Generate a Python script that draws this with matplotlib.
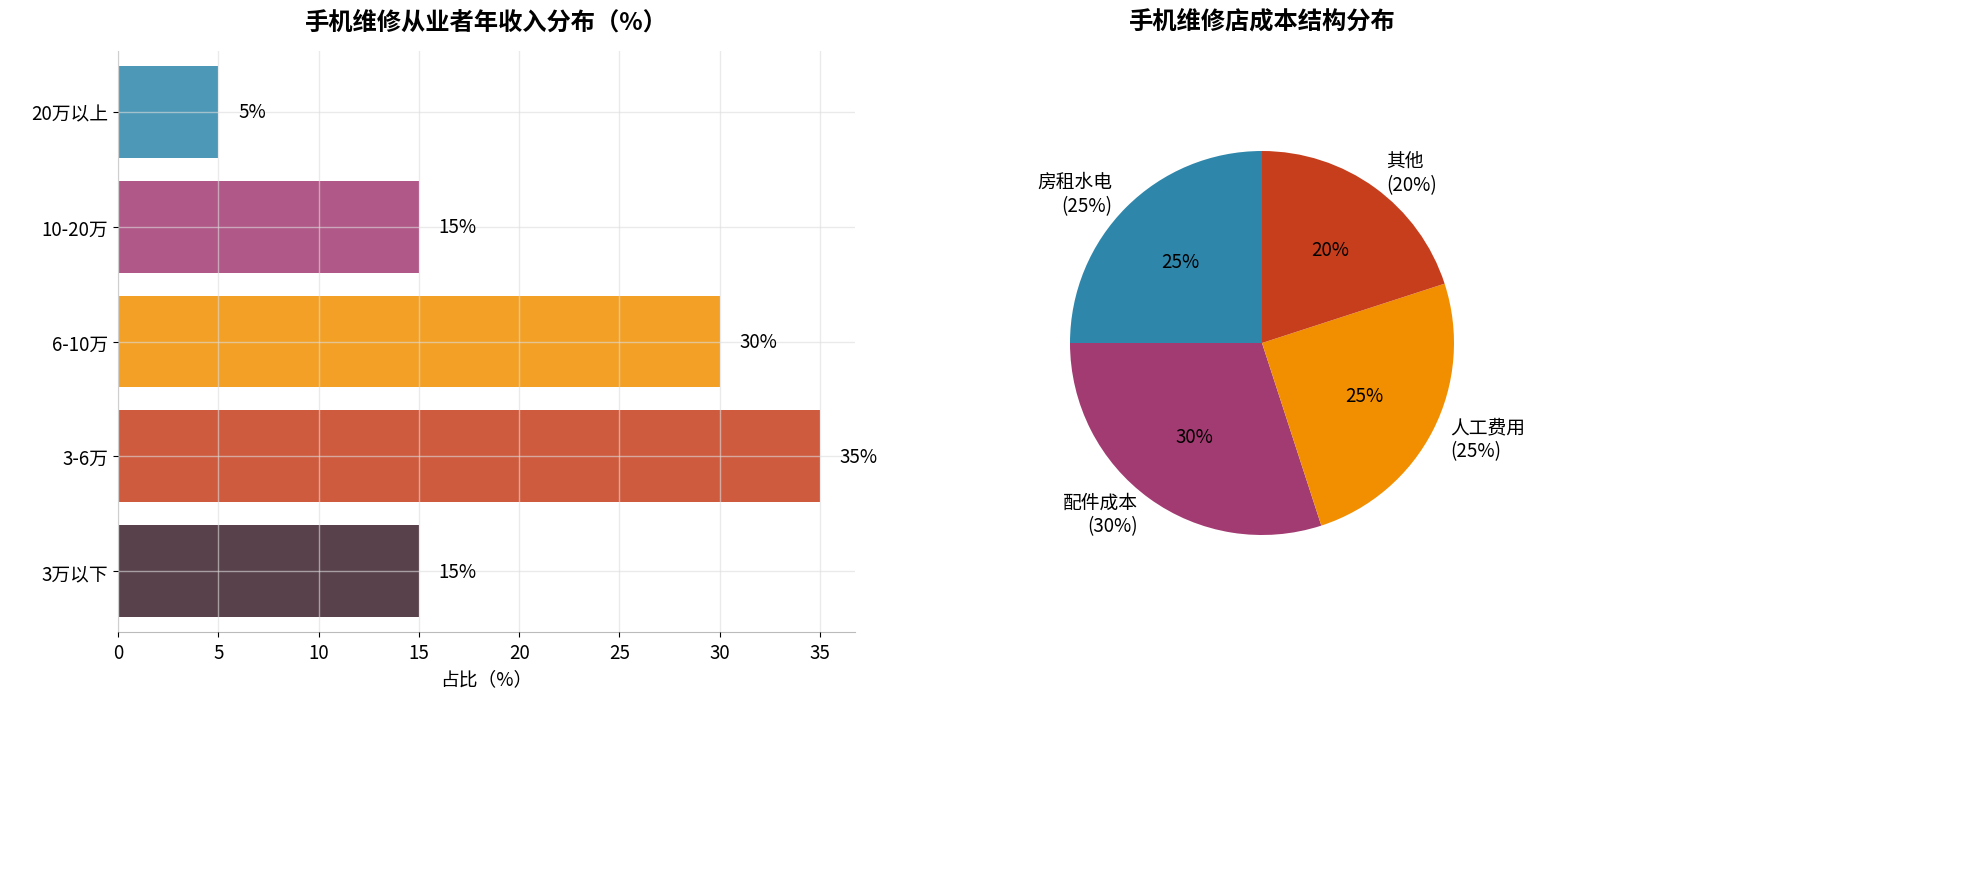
import matplotlib
matplotlib.use("Agg")
import matplotlib.pyplot as plt

plt.rcParams['font.family'] = ['Noto Sans CJK SC', 'DejaVu Sans']

income_cats = ['3万以下', '3-6万', '6-10万', '10-20万', '20万以上']
income_vals = [15, 35, 30, 15, 5]
income_colors = ['#3B1F2B', '#C73E1D', '#F18F01', '#A23B72', '#2E86AB']

cost_labels = ['房租水电', '配件成本', '人工费用', '其他']
cost_vals = [25, 30, 25, 20]
cost_colors = ['#2E86AB', '#A23B72', '#F18F01', '#C73E1D']

FS = 13.5
fig = plt.figure(figsize=(19.71, 8.79), dpi=100)
ax1 = fig.add_axes([118/1971, 1 - 633/879, (855-118)/1971, (633-52)/879])

bars = ax1.barh(income_cats, income_vals, color=income_colors, alpha=0.85, height=0.8)
ax1.set_xlim(0, 36.75)
ax1.set_ylim(-0.53, 4.53)
ax1.set_xticks(range(0, 36, 5))
ax1.grid(True, color='#dddddd', alpha=0.6, linewidth=1)
ax1.set_axisbelow(False)
for s in ['top', 'right']:
    ax1.spines[s].set_visible(False)
for s in ['left', 'bottom']:
    ax1.spines[s].set_color('#bbbbbb')
for b, v in zip(bars, income_vals):
    ax1.text(v + 1, b.get_y() + b.get_height()/2, f'{v}%', va='center', fontsize=FS)
ax1.set_xlabel('占比（%）', fontsize=FS)
ax1.set_title('手机维修从业者年收入分布（%）', fontsize=17.5, fontweight='bold', pad=16)
ax1.tick_params(labelsize=FS)

ax2 = fig.add_axes([(1262-240)/1971, 1 - (344+240)/879, 480/1971, 480/879])
labels = [f'{l}\n({v}%)' for l, v in zip(cost_labels, cost_vals)]
ax2.pie(cost_vals, labels=labels, colors=cost_colors, startangle=90,
        autopct='%d%%', pctdistance=0.6, labeldistance=1.1,
        textprops={'fontsize': FS})
ax2.set_aspect('equal')
fig.text(1262/1971, 1 - 22/879, '手机维修店成本结构分布', fontsize=17.5, fontweight='bold', ha='center', va='center')

fig.savefig('out.png', dpi=100)
